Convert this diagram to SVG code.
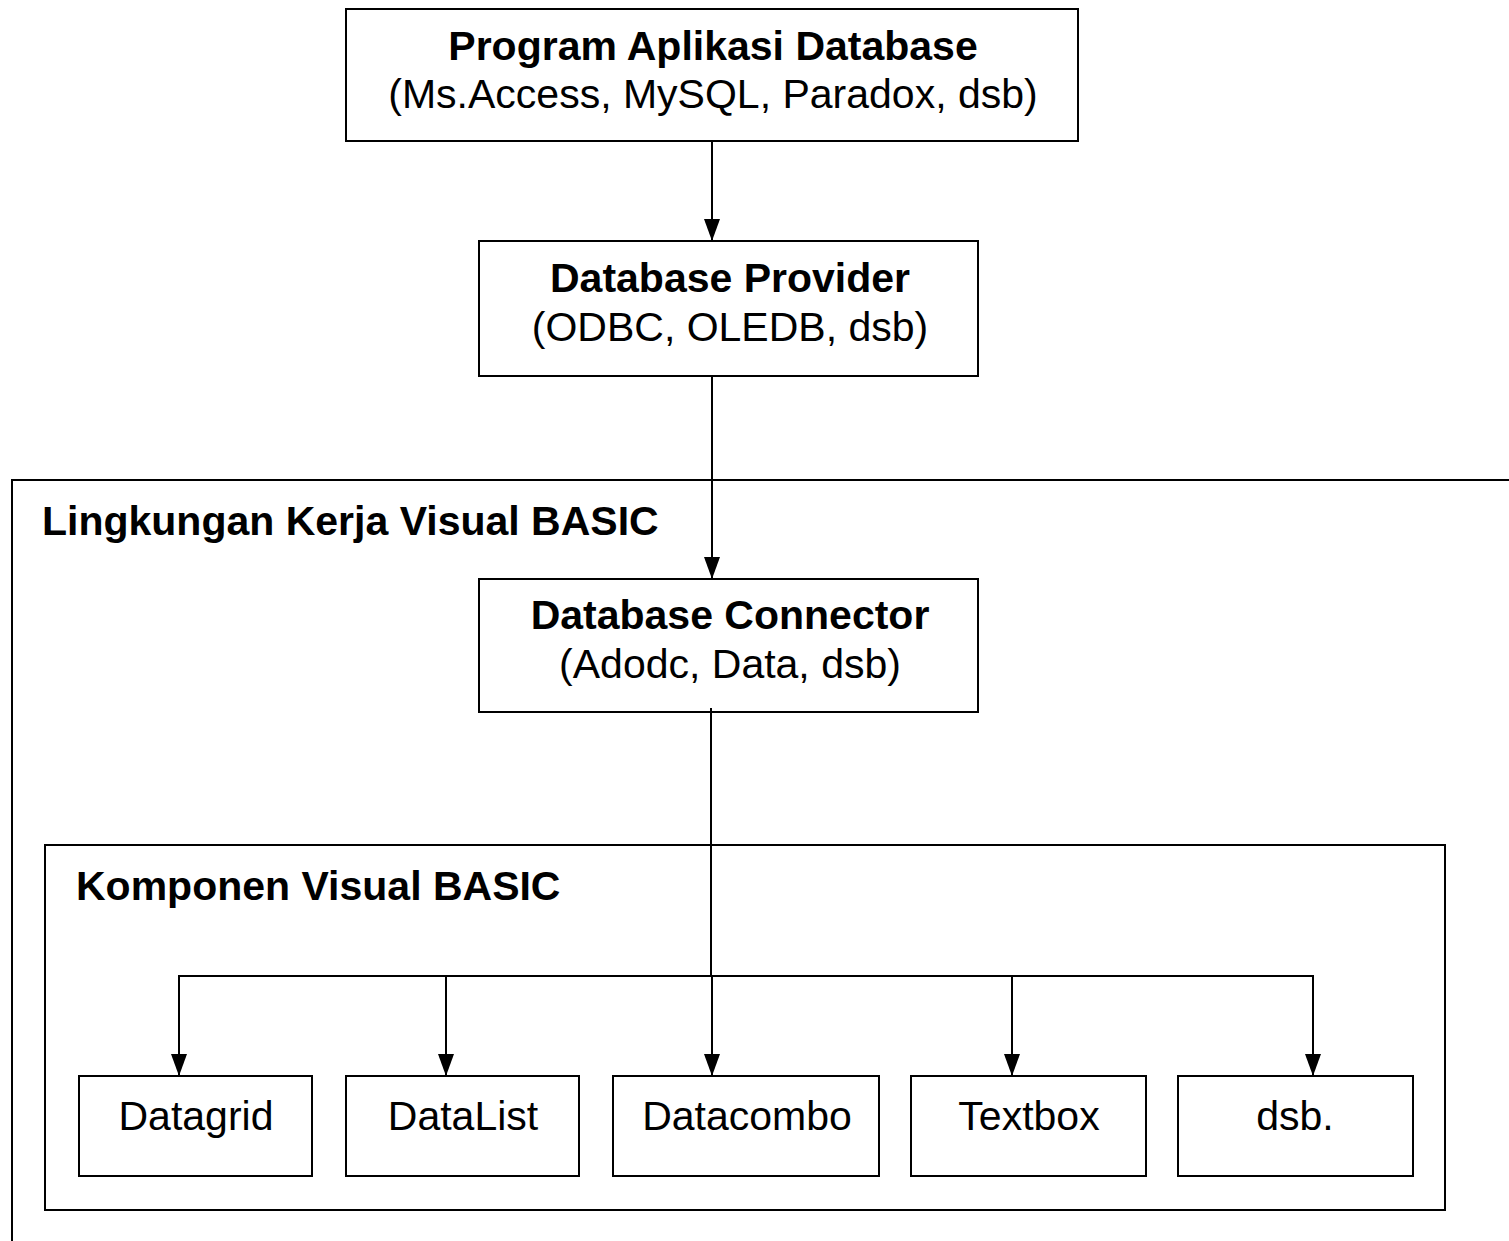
<svg xmlns="http://www.w3.org/2000/svg" width="1509" height="1241" viewBox="0 0 1509 1241">
<style>
  .box{fill:#fff;stroke:#000;stroke-width:2}
  .frame{fill:none;stroke:#000;stroke-width:2}
  .b{font-family:"Liberation Sans",Arial,sans-serif;font-weight:bold;font-size:41px;fill:#000}
  .r{font-family:"Liberation Sans",Arial,sans-serif;font-size:41px;fill:#000}
  .c{text-anchor:middle}
  .ln{fill:none;stroke:#000;stroke-width:2}
</style>
<defs>
  <marker id="ah" markerUnits="userSpaceOnUse" markerWidth="22" markerHeight="16" refX="22" refY="8" orient="auto" viewBox="0 0 22 16">
    <path d="M0,0 L22,8 L0,16 Z" fill="#000"/>
  </marker>
</defs>
<g id="lingkungan">
  <rect class="frame" x="12" y="480" width="1520" height="790"/>
  <text class="b" x="42" y="535">Lingkungan Kerja Visual BASIC</text>
</g>
<g id="komponen">
  <rect class="frame" x="45" y="845" width="1400" height="365"/>
  <text class="b" x="76" y="900">Komponen Visual BASIC</text>
</g>
<g id="connectors">
  <line class="ln" x1="712" y1="141" x2="712" y2="241" marker-end="url(#ah)"/>
  <line class="ln" x1="712" y1="376" x2="712" y2="579" marker-end="url(#ah)"/>
  <line class="ln" x1="711" y1="708" x2="711" y2="976"/>
  <polyline class="ln" points="179,1076 179,976 1313,976 1313,1076"/>
  <line class="ln" x1="179" y1="976" x2="179" y2="1076" marker-end="url(#ah)"/>
  <line class="ln" x1="446" y1="976" x2="446" y2="1076" marker-end="url(#ah)"/>
  <line class="ln" x1="712" y1="976" x2="712" y2="1076" marker-end="url(#ah)"/>
  <line class="ln" x1="1012" y1="976" x2="1012" y2="1076" marker-end="url(#ah)"/>
  <line class="ln" x1="1313" y1="976" x2="1313" y2="1076" marker-end="url(#ah)"/>
</g>
<g id="program">
  <rect class="box" x="346" y="9" width="732" height="132"/>
  <text class="b c" x="713" y="60">Program Aplikasi Database</text>
  <text class="r c" x="713" y="108">(Ms.Access, MySQL, Paradox, dsb)</text>
</g>
<g id="provider">
  <rect class="box" x="479" y="241" width="499" height="135"/>
  <text class="b c" x="730" y="292">Database Provider</text>
  <text class="r c" x="730" y="341">(ODBC, OLEDB, dsb)</text>
</g>
<g id="connector">
  <rect class="box" x="479" y="579" width="499" height="133"/>
  <text class="b c" x="730" y="629">Database Connector</text>
  <text class="r c" x="730" y="678">(Adodc, Data, dsb)</text>
</g>
<line class="ln" x1="711" y1="708" x2="711" y2="712"/>
<g id="datagrid">
  <rect class="box" x="79" y="1076" width="233" height="100"/>
  <text class="r c" x="196" y="1130">Datagrid</text>
</g>
<g id="datalist">
  <rect class="box" x="346" y="1076" width="233" height="100"/>
  <text class="r c" x="463" y="1130">DataList</text>
</g>
<g id="datacombo">
  <rect class="box" x="613" y="1076" width="266" height="100"/>
  <text class="r c" x="747" y="1130">Datacombo</text>
</g>
<g id="textbox">
  <rect class="box" x="911" y="1076" width="235" height="100"/>
  <text class="r c" x="1029" y="1130">Textbox</text>
</g>
<g id="dsb">
  <rect class="box" x="1178" y="1076" width="235" height="100"/>
  <text class="r c" x="1295" y="1130">dsb.</text>
</g>
</svg>
